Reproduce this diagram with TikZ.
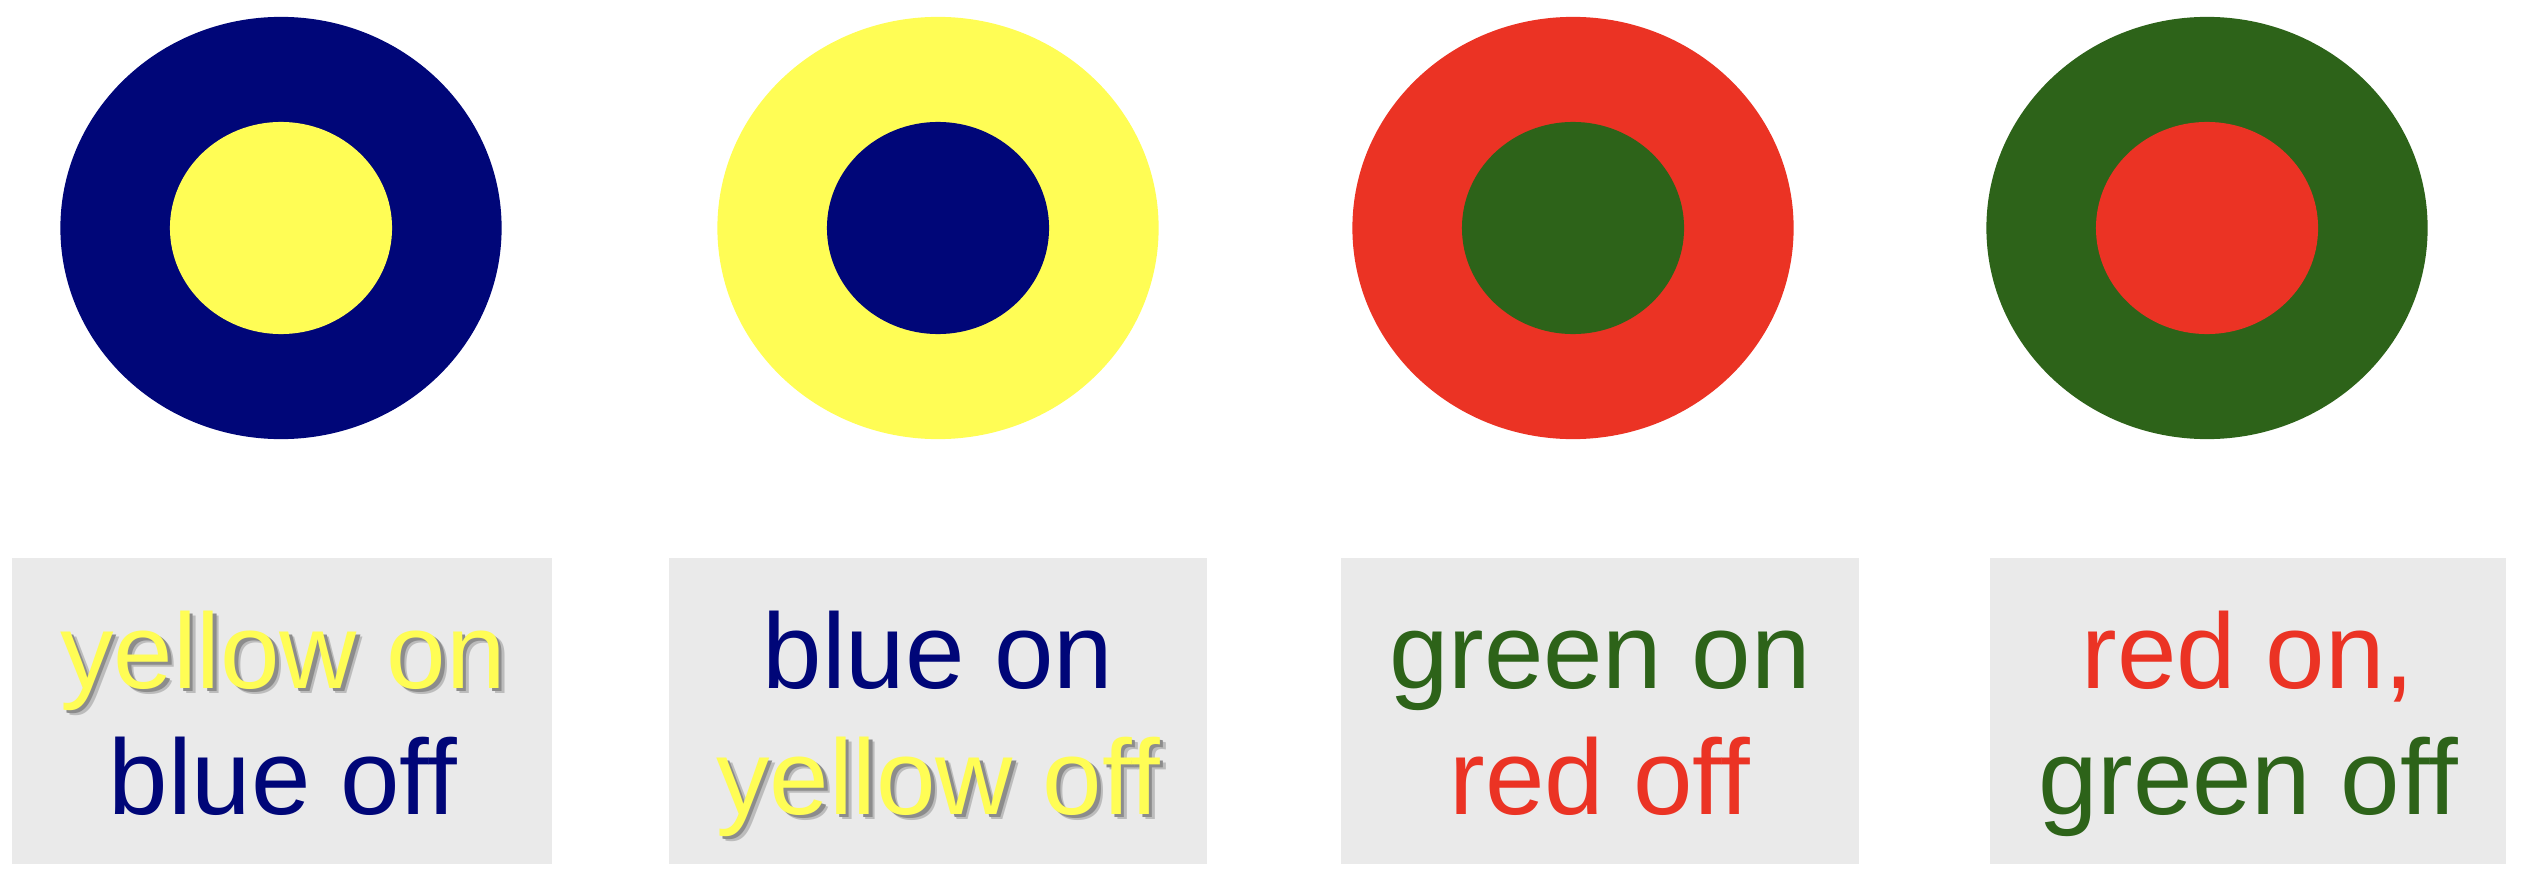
\documentclass[tikz,border=0pt]{standalone}
\usepackage{fontspec}
\setmainfont{Liberation Sans}
\usetikzlibrary{positioning,shapes.geometric}
\definecolor{navyblue}{RGB}{0,6,120}
\definecolor{brightyellow}{RGB}{255,253,85}
\definecolor{signalred}{RGB}{235,51,36}
\definecolor{darkgreen}{RGB}{45,99,25}
\definecolor{panelgray}{RGB}{234,234,234}
\definecolor{shadowlight}{RGB}{188,188,188}
\definecolor{shadowdark}{RGB}{140,140,140}
\newcommand{\yshadow}[1]{%
  \makebox[0pt][l]{\hspace*{1.7pt}\raisebox{-1.7pt}{\textcolor{shadowlight}{#1}}}%
  \makebox[0pt][l]{\hspace*{1pt}\raisebox{-1pt}{\textcolor{shadowdark}{#1}}}%
  \textcolor{brightyellow}{#1}}

\begin{document}
\begin{tikzpicture}[
    x=0.01cm, y=-0.01cm,
    every node/.style={font=\fontsize{30.4pt}{36pt}\selectfont},
    outer/.style={ellipse, inner sep=0pt, minimum width=4.41cm, minimum height=4.22cm},
    inner/.style={ellipse, inner sep=0pt, minimum width=2.22cm, minimum height=2.12cm},
    panel/.style={fill=panelgray, inner sep=0pt, minimum height=3.06cm},
    label/.style={anchor=base, inner sep=0pt}
  ]
    \useasboundingbox (0,0) rectangle (2522,876);

    % lamps
    \node[outer, fill=navyblue] (lampa) at (281,228) {};
    \node[inner, fill=brightyellow] (corea) at (lampa.center) {};
    \node[outer, fill=brightyellow] (lampb) at (938,228) {};
    \node[inner, fill=navyblue] (coreb) at (lampb.center) {};
    \node[outer, fill=signalred] (lampc) at (1573,228) {};
    \node[inner, fill=darkgreen] (corec) at (lampc.center) {};
    \node[outer, fill=darkgreen] (lampd) at (2207,228) {};
    \node[inner, fill=signalred] (cored) at (lampd.center) {};

    % captions
    \node[panel, minimum width=5.39cm] (panela) at (282,711) {};
    \node[panel, minimum width=5.37cm] (panelb) at (938,711) {};
    \node[panel, minimum width=5.18cm] (panelc) at (1600,711) {};
    \node[panel, minimum width=5.15cm] (paneld) at (2248,711) {};

    \node[label] (ona) at (283,688) {\yshadow{yellow on}};
    \node[label, text=navyblue] (offa) at (283,814) {blue off};
    \node[label, text=navyblue] (onb) at (938,688) {blue on};
    \node[label] (offb) at (938,814) {\yshadow{yellow off}};
    \node[label, text=darkgreen] (onc) at (1600,688) {green on};
    \node[label, text=signalred] (offc) at (1600,814) {red off};
    \node[label, text=signalred] (ond) at (2248,688) {red on,};
    \node[label, text=darkgreen] (offd) at (2248,814) {green off};
  \end{tikzpicture}
\end{document}
